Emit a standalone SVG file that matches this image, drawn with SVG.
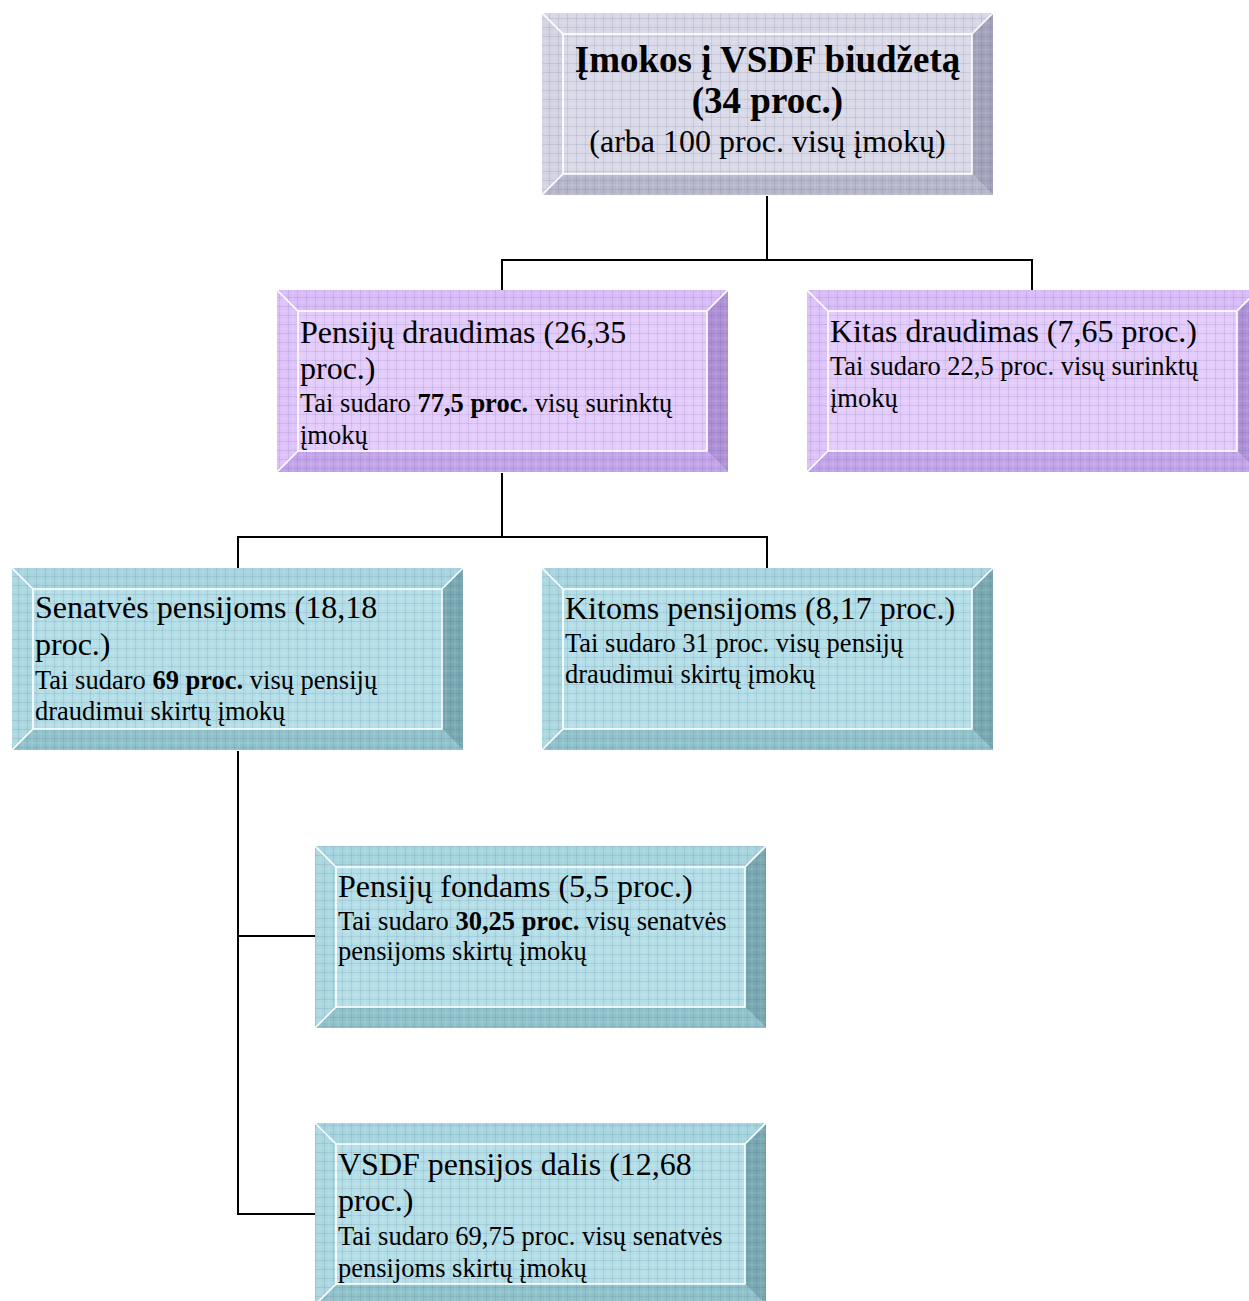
<svg xmlns="http://www.w3.org/2000/svg" width="1249" height="1301" viewBox="0 0 1249 1301">
<style>
text{font-family:"Liberation Serif","Times New Roman",serif;fill:#000}
.h{font-size:32px}
.s{font-size:26.5px}
.t{font-size:37px;font-weight:bold}
.b{font-weight:bold}
.conn{fill:none;stroke:#000;stroke-width:2}
.edge{fill:none;stroke:#fff;stroke-width:1.6}
.gray .face{fill:#d9d9e7}.gray .top{fill:#d6d6e5}.gray .left{fill:#d2d2e2}.gray .bot{fill:#b6b6cb}.gray .right{fill:#a2a2ba}
.purple .face{fill:#e3cbfb}.purple .top{fill:#d9bbf9}.purple .left{fill:#dcc1fa}.purple .bot{fill:#c2a3ea}.purple .right{fill:#ae8fd6}
.teal .face{fill:#b3dee7}.teal .top{fill:#a5d4de}.teal .left{fill:#aad7e0}.teal .bot{fill:#8ec1ca}.teal .right{fill:#77a7b0}
</style>
<defs>
<pattern id="grid" width="9" height="9" patternUnits="userSpaceOnUse">
<path d="M0 0.5H9M0.5 0V9" stroke="#506080" stroke-opacity="0.13" stroke-width="1" fill="none"/>
<path d="M0 5H9M5 0V9" stroke="#ffffff" stroke-opacity="0.12" stroke-width="1" fill="none"/>
</pattern>
</defs>

<g id="connectors">
<path class="conn" d="M767 196V260M502 290V260H1032V290"/>
<path class="conn" d="M502 473V537M238 568V537H767V568"/>
<path class="conn" d="M238 751V1214H315M238 936H315"/>
</g>

<g id="node-imokos" class="gray">
<rect class="face" x="542" y="13" width="451" height="182"/>
<polygon class="top" points="542,13 993,13 972,34 563,34"/>
<polygon class="right" points="993,13 993,195 972,174 972,34"/>
<polygon class="bot" points="542,195 993,195 972,174 563,174"/>
<polygon class="left" points="542,13 563,34 563,174 542,195"/>
<rect x="542" y="13" width="451" height="182" fill="url(#grid)"/>
<rect class="edge" x="563" y="34" width="409" height="140"/>
<path class="edge" d="M542 13L563 34M993 13L972 34M542 195L563 174"/>
<text class="t" x="767.5" y="72" text-anchor="middle">Įmokos į VSDF biudžetą</text>
<text class="t" x="767.5" y="113" text-anchor="middle">(34 proc.)</text>
<text class="h" x="767.5" y="152" text-anchor="middle">(arba 100 proc. visų įmokų)</text>
</g>

<g id="node-pensiju-draudimas" class="purple">
<rect class="face" x="277" y="290" width="451" height="182"/>
<polygon class="top" points="277,290 728,290 707,311 298,311"/>
<polygon class="right" points="728,290 728,472 707,451 707,311"/>
<polygon class="bot" points="277,472 728,472 707,451 298,451"/>
<polygon class="left" points="277,290 298,311 298,451 277,472"/>
<rect x="277" y="290" width="451" height="182" fill="url(#grid)"/>
<rect class="edge" x="298" y="311" width="409" height="140"/>
<path class="edge" d="M277 290L298 311M728 290L707 311M277 472L298 451"/>
<text class="h" x="300" y="343">Pensijų draudimas (26,35</text>
<text class="h" x="300" y="379">proc.)</text>
<text class="s" x="300" y="412">Tai sudaro <tspan class="b">77,5 proc.</tspan> visų surinktų</text>
<text class="s" x="300" y="444">įmokų</text>
</g>

<g id="node-kitas-draudimas" class="purple">
<rect class="face" x="807" y="290" width="451" height="182"/>
<polygon class="top" points="807,290 1258,290 1237,311 828,311"/>
<polygon class="right" points="1258,290 1258,472 1237,451 1237,311"/>
<polygon class="bot" points="807,472 1258,472 1237,451 828,451"/>
<polygon class="left" points="807,290 828,311 828,451 807,472"/>
<rect x="807" y="290" width="451" height="182" fill="url(#grid)"/>
<rect class="edge" x="828" y="311" width="409" height="140"/>
<path class="edge" d="M807 290L828 311M1258 290L1237 311M807 472L828 451"/>
<text class="h" x="830" y="342">Kitas draudimas (7,65 proc.)</text>
<text class="s" x="830" y="375">Tai sudaro 22,5 proc. visų surinktų</text>
<text class="s" x="830" y="407">įmokų</text>
</g>

<g id="node-senatves" class="teal">
<rect class="face" x="12" y="568" width="451" height="182"/>
<polygon class="top" points="12,568 463,568 442,589 33,589"/>
<polygon class="right" points="463,568 463,750 442,729 442,589"/>
<polygon class="bot" points="12,750 463,750 442,729 33,729"/>
<polygon class="left" points="12,568 33,589 33,729 12,750"/>
<rect x="12" y="568" width="451" height="182" fill="url(#grid)"/>
<rect class="edge" x="33" y="589" width="409" height="140"/>
<path class="edge" d="M12 568L33 589M463 568L442 589M12 750L33 729"/>
<text class="h" x="35" y="618">Senatvės pensijoms (18,18</text>
<text class="h" x="35" y="655">proc.)</text>
<text class="s" x="35" y="689">Tai sudaro <tspan class="b">69 proc.</tspan> visų pensijų</text>
<text class="s" x="35" y="720">draudimui skirtų įmokų</text>
</g>

<g id="node-kitoms" class="teal">
<rect class="face" x="542" y="568" width="451" height="182"/>
<polygon class="top" points="542,568 993,568 972,589 563,589"/>
<polygon class="right" points="993,568 993,750 972,729 972,589"/>
<polygon class="bot" points="542,750 993,750 972,729 563,729"/>
<polygon class="left" points="542,568 563,589 563,729 542,750"/>
<rect x="542" y="568" width="451" height="182" fill="url(#grid)"/>
<rect class="edge" x="563" y="589" width="409" height="140"/>
<path class="edge" d="M542 568L563 589M993 568L972 589M542 750L563 729"/>
<text class="h" x="565" y="619">Kitoms pensijoms (8,17 proc.)</text>
<text class="s" x="565" y="652">Tai sudaro 31 proc. visų pensijų</text>
<text class="s" x="565" y="683">draudimui skirtų įmokų</text>
</g>

<g id="node-fondams" class="teal">
<rect class="face" x="315" y="846" width="451" height="182"/>
<polygon class="top" points="315,846 766,846 745,867 336,867"/>
<polygon class="right" points="766,846 766,1028 745,1007 745,867"/>
<polygon class="bot" points="315,1028 766,1028 745,1007 336,1007"/>
<polygon class="left" points="315,846 336,867 336,1007 315,1028"/>
<rect x="315" y="846" width="451" height="182" fill="url(#grid)"/>
<rect class="edge" x="336" y="867" width="409" height="140"/>
<path class="edge" d="M315 846L336 867M766 846L745 867M315 1028L336 1007"/>
<text class="h" x="338" y="897">Pensijų fondams (5,5 proc.)</text>
<text class="s" x="338" y="930">Tai sudaro <tspan class="b">30,25 proc.</tspan> visų senatvės</text>
<text class="s" x="338" y="960">pensijoms skirtų įmokų</text>
</g>

<g id="node-vsdf-dalis" class="teal">
<rect class="face" x="315" y="1123" width="451" height="182"/>
<polygon class="top" points="315,1123 766,1123 745,1144 336,1144"/>
<polygon class="right" points="766,1123 766,1305 745,1284 745,1144"/>
<polygon class="bot" points="315,1305 766,1305 745,1284 336,1284"/>
<polygon class="left" points="315,1123 336,1144 336,1284 315,1305"/>
<rect x="315" y="1123" width="451" height="182" fill="url(#grid)"/>
<rect class="edge" x="336" y="1144" width="409" height="140"/>
<path class="edge" d="M315 1123L336 1144M766 1123L745 1144M315 1305L336 1284"/>
<text class="h" x="338" y="1175">VSDF pensijos dalis (12,68</text>
<text class="h" x="338" y="1211">proc.)</text>
<text class="s" x="338" y="1245">Tai sudaro 69,75 proc. visų senatvės</text>
<text class="s" x="338" y="1277">pensijoms skirtų įmokų</text>
</g>
</svg>
